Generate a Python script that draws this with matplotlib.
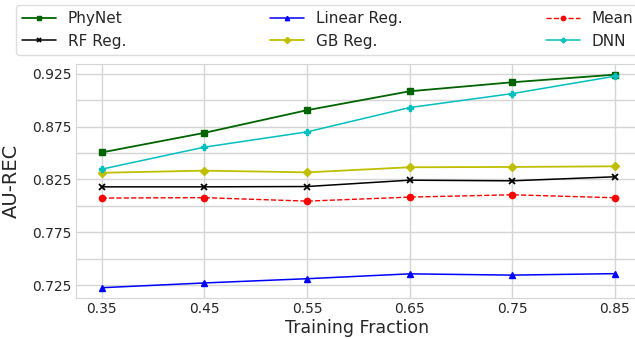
import matplotlib
matplotlib.use("Agg")
import matplotlib.pyplot as plt
import seaborn as sns
from matplotlib.ticker import MultipleLocator

# training fractions on the x axis
fractions = [0.35, 0.45, 0.55, 0.65, 0.75, 0.85]

# AU-REC per method
phynet = [0.8505, 0.869, 0.8904, 0.9083, 0.9168, 0.924]
rf_reg = [0.818, 0.818, 0.8183, 0.8243, 0.8237, 0.8275]
linear_reg = [0.7227, 0.7272, 0.7312, 0.7358, 0.7346, 0.736]
gb_reg = [0.8313, 0.8333, 0.8317, 0.8365, 0.8368, 0.8374]
mean_base = [0.8074, 0.8078, 0.8045, 0.8083, 0.8105, 0.8077]
dnn = [0.8347, 0.8555, 0.8699, 0.8929, 0.9061, 0.9225]

yticks = [0.725, 0.775, 0.825, 0.875, 0.925]

sns.set_style("whitegrid")
plt.rcParams['font.family'] = ['DejaVu Sans']

fig = plt.figure(figsize=(6.35, 3.39), dpi=100)
ax = fig.add_axes([0.1197, 0.121, 0.885, 0.690])

ax.plot(fractions, phynet, color='darkgreen', marker='s', markersize=4.5, lw=1.3, label='PhyNet')
ax.plot(fractions, rf_reg, color='k', marker='x', markersize=4, mew=1.3, lw=1.1, label='RF Reg.')
ax.plot(fractions, linear_reg, color='b', marker='^', markersize=4.5, lw=1.1, label='Linear Reg.')
ax.plot(fractions, gb_reg, color='y', marker='D', markersize=4.5, lw=1.3, label='GB Reg.')
ax.plot(fractions, mean_base, color='r', marker='o', markersize=4.5, lw=1.0, ls='--', label='Mean')
ax.plot(fractions, dnn, color='c', marker='P', markersize=4.5, lw=1.1, label='DNN')

ax.set_xlim(0.325, 0.8725)
ax.set_ylim(0.713, 0.934)
ax.set_xticks(fractions)
ax.set_xticklabels(['%.2f' % f for f in fractions])
ax.set_yticks(yticks)
ax.set_yticklabels(['%.3f' % t for t in yticks])
ax.yaxis.set_minor_locator(MultipleLocator(0.025))
ax.grid(True, which='both', color='#d5d5d5', lw=1.0)
ax.tick_params(axis='both', which='both', length=0, labelsize=10, colors='#262626')
ax.tick_params(axis='x', pad=3)
for s in ax.spines.values():
    s.set_color('#d5d5d5')

ax.set_xlabel('Training Fraction', fontsize=12.5, color='#262626', labelpad=2)
ax.set_ylabel('AU-REC', fontsize=14, color='#262626', labelpad=8)

leg = fig.legend(ncol=3, loc='upper left',
                 bbox_to_anchor=(16 / 635, 1 - 5 / 339),
                 fontsize=11, markerscale=0.7, frameon=True, handlelength=2.2,
                 borderaxespad=0.0, labelspacing=0.5, columnspacing=9.4)
leg.get_frame().set_edgecolor('#d5d5d5')
for t in leg.get_texts():
    t.set_color('#262626')

fig.savefig('out.png', dpi=100)
